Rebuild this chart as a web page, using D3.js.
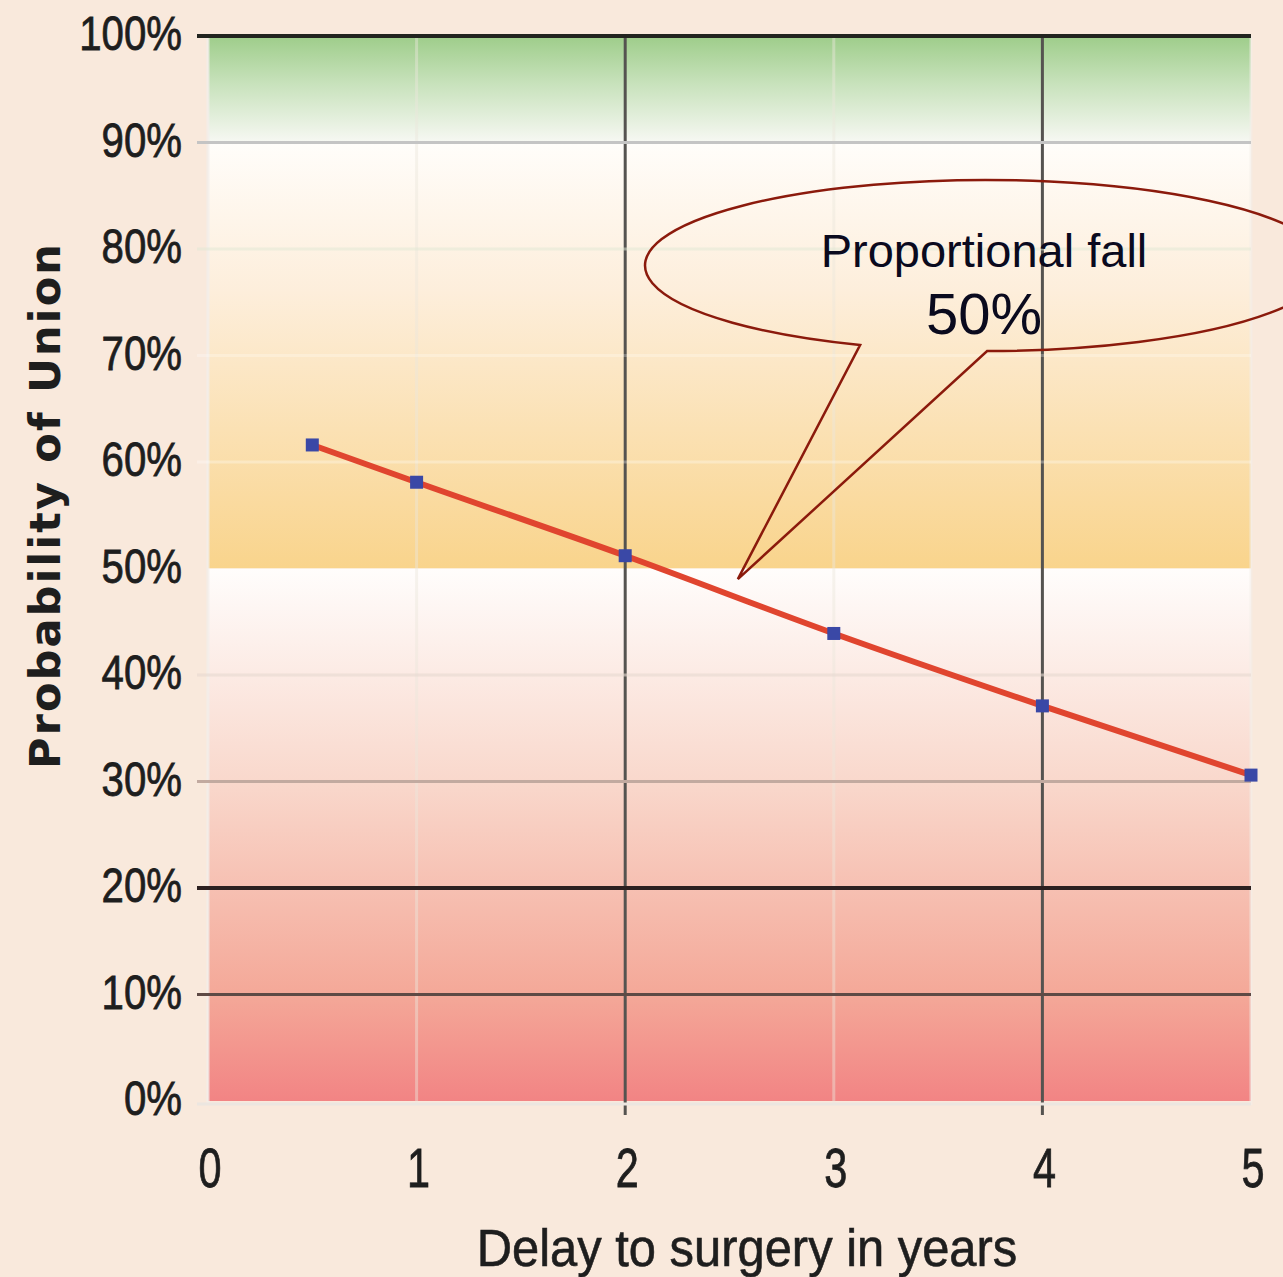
<!DOCTYPE html>
<html lang="en">

<head>
    <meta charset="UTF-8">
    <title>Probability of Union</title>
    <script src="https://d3js.org/d3.v7.min.js"></script>
    <style>
        body { margin: 0; background: #f9e9dc; }
        svg { display: block; }
    </style>
</head>

<body>
    <svg class="chart" width="1283" height="1277"></svg>

    <script>
        // data
        const delayYears = [0.5, 1, 2, 3, 4, 5];
        const unionProb = [61.6, 58.1, 51.2, 43.9, 37.1, 30.6];
        const xTicks = [0, 1, 2, 3, 4, 5];
        const yTicks = [0, 10, 20, 30, 40, 50, 60, 70, 80, 90, 100];
        const calloutLines = ['Proportional fall', '50%'];

        const svg = d3.select('.chart');
        const width = +svg.attr('width');
        const height = +svg.attr('height');
        const plot = { left: 208, right: 1251, top: 36, bottom: 1101 };

        const xScale = d3.scaleLinear().domain([0, 5]).range([plot.left, plot.right]);
        const yScale = d3.scaleLinear().domain([0, 100]).range([plot.bottom, plot.top]);

        svg.append('rect').attr('width', width).attr('height', height).attr('fill', '#f9e9dc');

        // background bands
        const defs = svg.append('defs');
        const addGrad = (id, stops) => {
            const g = defs.append('linearGradient').attr('id', id)
                .attr('x1', 0).attr('y1', 0).attr('x2', 0).attr('y2', 1);
            stops.forEach(s => g.append('stop').attr('offset', s[0]).attr('stop-color', s[1]));
        };
        addGrad('gGreen', [['0%', '#9ecd8a'], ['45%', '#c8e2bc'], ['100%', '#f7f8f3']]);
        addGrad('gOrange', [['0%', '#fffdfa'], ['35%', '#fdeedb'], ['100%', '#f9d48c']]);
        addGrad('gRed', [['0%', '#fffdfc'], ['40%', '#f9d8cc'], ['80%', '#f4a898'], ['100%', '#f28484']]);

        const bands = [[90, 100, 'gGreen'], [50, 90, 'gOrange'], [0, 50, 'gRed']];
        svg.append('g').selectAll('rect').data(bands).join('rect')
            .attr('x', plot.left)
            .attr('width', plot.right - plot.left)
            .attr('y', d => yScale(d[1]))
            .attr('height', d => yScale(d[0]) - yScale(d[1]))
            .attr('fill', d => `url(#${d[2]})`);

        // gridlines, styled per tick like the original
        const hStyle = {
            100: ['#22241f', 4, 1], 90: ['#c4c4c4', 3, 1], 80: ['#dfe8d4', 3, 0.5], 70: ['#ffffff', 3, 0.25],
            60: ['#ffffff', 3, 0.3], 50: ['none', 0, 0], 40: ['#e6d8d0', 3, 0.6], 30: ['#c2aaa0', 3, 1],
            20: ['#2c2020', 4, 1], 10: ['#5e4a45', 3, 1], 0: ['#ece6e0', 3, 1]
        };
        const vStyle = {
            0: ['#f3eeea', 3, 0.8], 1: ['#ebe6dc', 3, 0.45], 2: ['#555350', 3, 1],
            3: ['#ebe6dc', 3, 0.45], 4: ['#555350', 3, 1], 5: ['#f3eeea', 3, 0.6]
        };

        svg.append('g').selectAll('line').data(xTicks).join('line')
            .attr('x1', d => xScale(d)).attr('x2', d => xScale(d))
            .attr('y1', plot.top)
            .attr('y2', d => (d === 2 || d === 4) ? plot.bottom + 14 : plot.bottom + 4)
            .attr('stroke', d => vStyle[d][0])
            .attr('stroke-width', d => vStyle[d][1])
            .attr('stroke-opacity', d => vStyle[d][2]);

        svg.append('g').selectAll('line').data(yTicks).join('line')
            .attr('x1', plot.left - 11).attr('x2', plot.right)
            .attr('y1', d => yScale(d) + (d === 0 ? 3 : 0))
            .attr('y2', d => yScale(d) + (d === 0 ? 3 : 0))
            .attr('stroke', d => hStyle[d][0])
            .attr('stroke-width', d => hStyle[d][1])
            .attr('stroke-opacity', d => hStyle[d][2]);

        // tick labels (narrow, tall glyphs)
        svg.append('g').selectAll('text').data(yTicks).join('text')
            .attr('transform', d => `translate(182, ${yScale(d) + 14}) scale(0.82, 1)`)
            .attr('text-anchor', 'end')
            .attr('font-family', 'Liberation Sans, Arial, sans-serif')
            .attr('font-size', 49)
            .attr('fill', '#1e1e1e')
            .attr('stroke', '#1e1e1e')
            .attr('stroke-width', 0.8)
            .text(d => d + '%');

        svg.append('g').selectAll('text').data(xTicks).join('text')
            .attr('transform', d => `translate(${xScale(d) + 2}, 1187) scale(0.74, 1)`)
            .attr('text-anchor', 'middle')
            .attr('font-family', 'Liberation Sans, Arial, sans-serif')
            .attr('font-size', 56)
            .attr('fill', '#1e1e1e')
            .attr('stroke', '#1e1e1e')
            .attr('stroke-width', 0.8)
            .text(d => d);

        // axis titles
        svg.append('text')
            .attr('transform', 'translate(747, 1266) scale(0.94, 1)')
            .attr('text-anchor', 'middle')
            .attr('font-family', 'Liberation Sans, Arial, sans-serif')
            .attr('font-size', 52)
            .attr('fill', '#1e1e1e')
            .attr('stroke', '#1e1e1e')
            .attr('stroke-width', 0.6)
            .text('Delay to surgery in years');

        svg.append('text')
            .attr('transform', 'translate(60, 507) rotate(-90)')
            .attr('x', -262)
            .attr('textLength', 525)
            .attr('lengthAdjust', 'spacing')
            .attr('font-family', 'DejaVu Sans, sans-serif')
            .attr('font-weight', 'bold')
            .attr('font-size', 43)
            .attr('fill', '#1e1e1e')
            .text('Probability of Union');

        // series
        const pts = delayYears.map((d, i) => [d, unionProb[i]]);
        const line = d3.line()
            .curve(d3.curveMonotoneX)
            .x(d => xScale(d[0]))
            .y(d => yScale(d[1]));

        svg.append('path')
            .datum(pts)
            .attr('d', line)
            .attr('fill', 'none')
            .attr('stroke', '#e0452f')
            .attr('stroke-width', 6);

        svg.append('g').selectAll('rect').data(pts).join('rect')
            .attr('x', d => xScale(d[0]) - 6.5)
            .attr('y', d => yScale(d[1]) - 6.5)
            .attr('width', 13).attr('height', 13)
            .attr('fill', '#3a48a6');

        // speech bubble callout (data units)
        const cx = xScale(3.73), cy = yScale(78.45);
        const rx = xScale(3.73 + 1.635) - cx, ry = yScale(78.45 - 8.03) - cy;
        const onEllipse = xv => {
            const px = xScale(xv);
            return [px, cy + ry * Math.sqrt(1 - Math.pow((px - cx) / rx, 2))];
        };
        const gapR = onEllipse(3.735), gapL = onEllipse(3.126);
        const tip = [xScale(2.54), yScale(49.0)];
        const bubble = `M${gapR[0]},${gapR[1]} A${rx},${ry} 0 1 0 ${gapL[0]},${gapL[1]} L${tip[0]},${tip[1]} Z`;

        svg.append('path')
            .attr('d', bubble)
            .attr('fill', 'none')
            .attr('stroke', '#8b1a0c')
            .attr('stroke-width', 2.5)
            .attr('stroke-linejoin', 'miter');

        svg.append('text')
            .attr('x', 984).attr('y', 267)
            .attr('text-anchor', 'middle')
            .attr('font-family', 'Liberation Sans, Arial, sans-serif')
            .attr('font-size', 47)
            .attr('fill', '#0a0a1e')
            .text(calloutLines[0]);

        svg.append('text')
            .attr('x', 984).attr('y', 334)
            .attr('text-anchor', 'middle')
            .attr('font-family', 'Liberation Sans, Arial, sans-serif')
            .attr('font-size', 58)
            .attr('fill', '#0a0a1e')
            .text(calloutLines[1]);
    </script>
</body>

</html>
